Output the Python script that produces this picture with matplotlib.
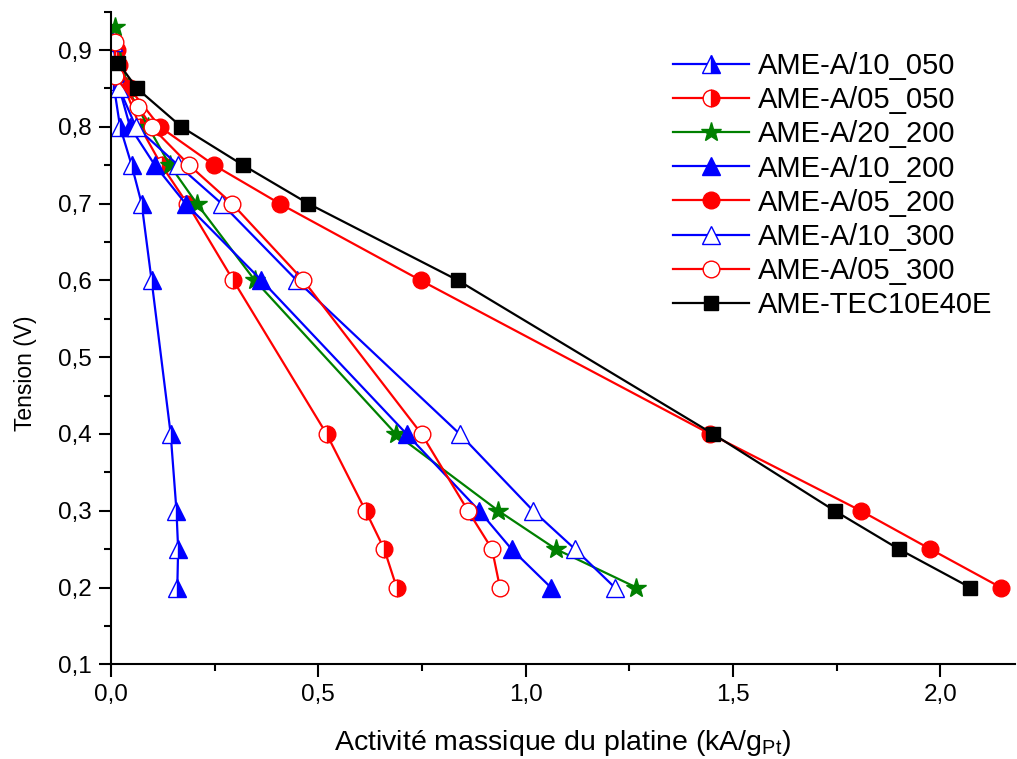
import numpy as np
import matplotlib.pyplot as plt
from matplotlib.ticker import MultipleLocator, FuncFormatter

plt.rcParams['font.family'] = ['Liberation Sans', 'DejaVu Sans']

# tension (V) and activité massique (kA/gPt) per MEA
v_10_050 = [0.86, 0.80, 0.75, 0.70, 0.60, 0.40, 0.30, 0.25, 0.20]
a_10_050 = [0.005, 0.022, 0.050, 0.074, 0.098, 0.144, 0.158, 0.162, 0.160]

v_05_050 = [0.90, 0.855, 0.80, 0.75, 0.70, 0.60, 0.40, 0.30, 0.25, 0.20]
a_05_050 = [0.014, 0.030, 0.070, 0.122, 0.184, 0.295, 0.520, 0.614, 0.659, 0.689]

v_20_200 = [0.93, 0.85, 0.80, 0.75, 0.70, 0.60, 0.40, 0.30, 0.25, 0.20]
a_20_200 = [0.010, 0.040, 0.090, 0.142, 0.207, 0.347, 0.687, 0.934, 1.073, 1.267]

v_10_200 = [0.87, 0.80, 0.75, 0.70, 0.60, 0.40, 0.30, 0.25, 0.20]
a_10_200 = [0.010, 0.046, 0.106, 0.180, 0.363, 0.713, 0.888, 0.966, 1.061]

v_05_200 = [0.88, 0.85, 0.80, 0.75, 0.70, 0.60, 0.40, 0.30, 0.25, 0.20]
a_05_200 = [0.020, 0.045, 0.118, 0.249, 0.407, 0.747, 1.445, 1.808, 1.976, 2.146]

v_10_300 = [0.91, 0.85, 0.80, 0.75, 0.70, 0.60, 0.40, 0.30, 0.25, 0.20]
a_10_300 = [0.005, 0.020, 0.060, 0.162, 0.267, 0.448, 0.841, 1.018, 1.119, 1.215]

v_05_300 = [0.91, 0.866, 0.826, 0.80, 0.75, 0.70, 0.60, 0.40, 0.30, 0.25, 0.20]
a_05_300 = [0.010, 0.010, 0.066, 0.098, 0.189, 0.292, 0.464, 0.749, 0.861, 0.919, 0.938]

v_tec = [0.883, 0.85, 0.80, 0.75, 0.70, 0.60, 0.40, 0.30, 0.25, 0.20]
a_tec = [0.018, 0.063, 0.170, 0.319, 0.476, 0.837, 1.452, 1.745, 1.900, 2.072]

fig = plt.figure(figsize=(10.17, 7.59), dpi=100)
ax = fig.add_axes([0.1091, 0.1248, 0.8889, 0.8598])

lw = 1.6
ax.plot(a_10_050, v_10_050, '-^', color='blue', lw=lw, ms=13, fillstyle='right',
        markerfacecolor='blue', markerfacecoloralt='white', markeredgecolor='blue',
        label='AME-A/10_050')
ax.plot(a_05_050, v_05_050, '-o', color='red', lw=lw, ms=12, fillstyle='right',
        markerfacecolor='red', markerfacecoloralt='white', markeredgecolor='red',
        label='AME-A/05_050')
ax.plot(a_20_200, v_20_200, '-*', color='green', lw=lw, ms=15, label='AME-A/20_200')
ax.plot(a_10_200, v_10_200, '-^', color='blue', lw=lw, ms=13, label='AME-A/10_200')
ax.plot(a_05_200, v_05_200, '-o', color='red', lw=lw, ms=12, label='AME-A/05_200')
ax.plot(a_10_300, v_10_300, '-^', color='blue', lw=lw, ms=13, markerfacecolor='white',
        label='AME-A/10_300')
ax.plot(a_05_300, v_05_300, '-o', color='red', lw=lw, ms=12, markerfacecolor='white',
        label='AME-A/05_300')
ax.plot(a_tec, v_tec, '-s', color='black', lw=lw, ms=10, label='AME-TEC10E40E')

ax.set_xlim(0, 2.18)
ax.set_ylim(0.1, 0.95)
ax.xaxis.set_major_locator(MultipleLocator(0.5))
ax.xaxis.set_minor_locator(MultipleLocator(0.25))
ax.yaxis.set_major_locator(MultipleLocator(0.1))
ax.yaxis.set_minor_locator(MultipleLocator(0.05))
comma = FuncFormatter(lambda v, p: f'{v:.1f}'.replace('.', ','))
ax.xaxis.set_major_formatter(comma)
ax.yaxis.set_major_formatter(comma)

for s in ['top', 'right']:
    ax.spines[s].set_visible(False)
for s in ['left', 'bottom']:
    ax.spines[s].set_linewidth(1.5)
ax.tick_params(which='major', length=9, width=1.5, labelsize=17.5, direction='out', pad=5)
ax.tick_params(which='minor', length=5, width=1.5, direction='out')

ax.set_xlabel('Activité massique du platine (kA/g$_{\\mathregular{Pt}}$)', fontsize=20.5)
ax.set_ylabel('Tension (V)', fontsize=16.5)
ax.xaxis.set_label_coords(0.5, -0.097)
ax.yaxis.set_label_coords(-0.082, 0.446)

ax.legend(loc='upper left', bbox_to_anchor=(0.639, 0.962), bbox_transform=fig.transFigure,
          frameon=False, fontsize=21, handlelength=2.6, labelspacing=0.21,
          handletextpad=0.31, borderpad=0.3)

fig.savefig('out.png', dpi=100)
